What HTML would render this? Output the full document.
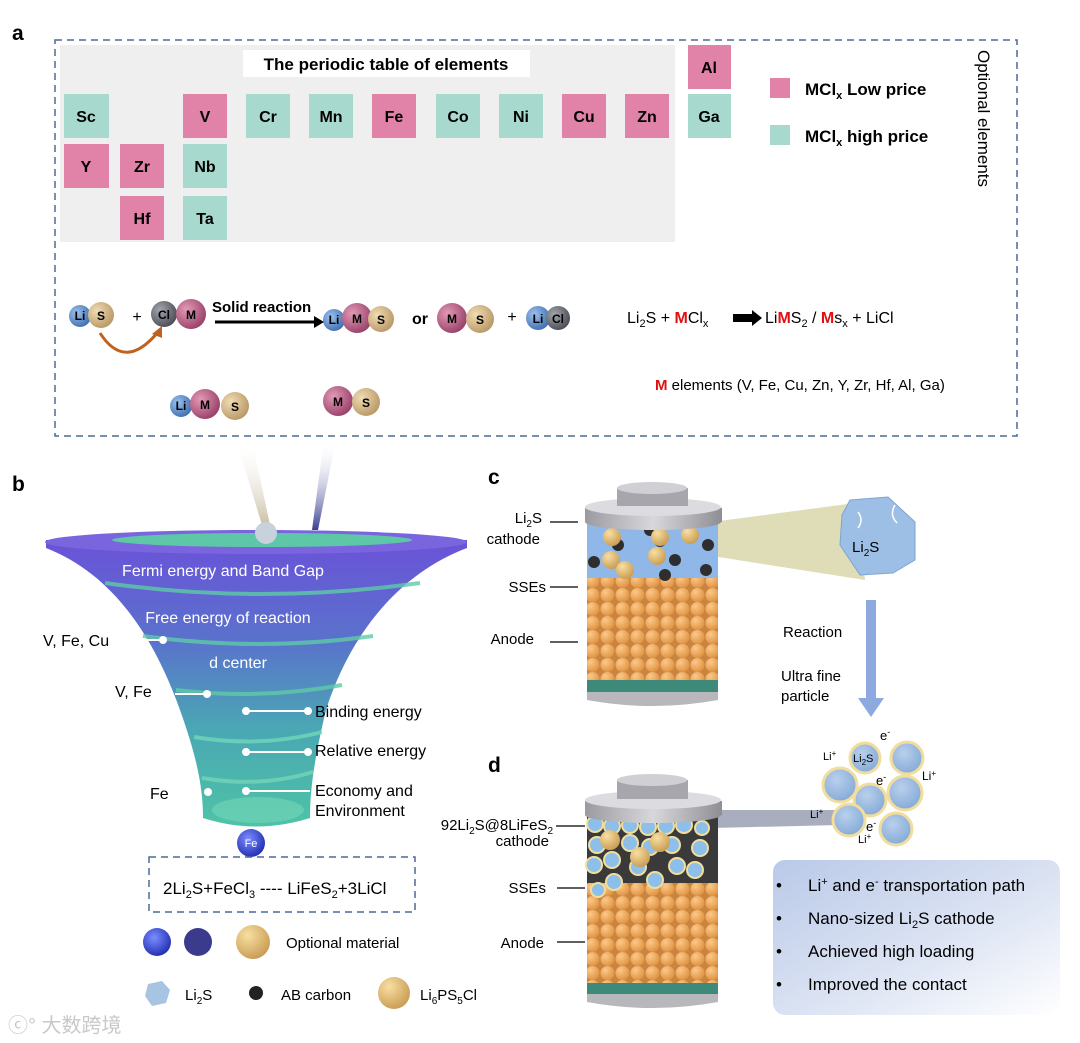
<!DOCTYPE html>
<html><head><meta charset="utf-8"><style>
html,body{margin:0;padding:0;background:#fff;}
svg{display:block;font-family:"Liberation Sans",Arial,sans-serif;}
</style></head><body>
<svg width="1080" height="1043" viewBox="0 0 1080 1043" xmlns="http://www.w3.org/2000/svg">
<defs>
<radialGradient id="gLi" cx="35%" cy="35%" r="70%"><stop offset="0" stop-color="#9cc2ee"/><stop offset="1" stop-color="#3f6fb0"/></radialGradient>
<radialGradient id="gS" cx="35%" cy="35%" r="70%"><stop offset="0" stop-color="#f1dcb4"/><stop offset="1" stop-color="#b89866"/></radialGradient>
<radialGradient id="gM" cx="35%" cy="35%" r="70%"><stop offset="0" stop-color="#e39ab5"/><stop offset="1" stop-color="#98406a"/></radialGradient>
<radialGradient id="gCl" cx="35%" cy="35%" r="70%"><stop offset="0" stop-color="#a4a6ae"/><stop offset="1" stop-color="#4b4c55"/></radialGradient>
<radialGradient id="gFe" cx="40%" cy="35%" r="70%"><stop offset="0" stop-color="#7c8dff"/><stop offset="1" stop-color="#1e2bb0"/></radialGradient>
<radialGradient id="gGold" cx="35%" cy="30%" r="75%"><stop offset="0" stop-color="#f8dfa2"/><stop offset="1" stop-color="#c89b52"/></radialGradient>
<radialGradient id="gOr" cx="35%" cy="30%" r="75%"><stop offset="0" stop-color="#fbc98a"/><stop offset="1" stop-color="#e0913f"/></radialGradient>
<radialGradient id="gPart" cx="40%" cy="35%" r="70%"><stop offset="0" stop-color="#b9d0ec"/><stop offset="1" stop-color="#82a8d6"/></radialGradient>
<linearGradient id="gFun" x1="0" y1="0" x2="0" y2="1"><stop offset="0" stop-color="#6a52d8"/><stop offset="0.35" stop-color="#5a72cc"/><stop offset="0.65" stop-color="#4aa6b4"/><stop offset="1" stop-color="#4ec3a6"/></linearGradient>
<linearGradient id="gBox" x1="0" y1="0" x2="1" y2="1"><stop offset="0" stop-color="#b9c9e8"/><stop offset="0.6" stop-color="#dfe6f4"/><stop offset="1" stop-color="#ffffff"/></linearGradient>
<linearGradient id="gCap" x1="0" y1="0" x2="1" y2="0"><stop offset="0" stop-color="#9a9aa0"/><stop offset="0.5" stop-color="#d8d8dc"/><stop offset="1" stop-color="#8e8e94"/></linearGradient>
<pattern id="pOr" width="15" height="14" patternUnits="userSpaceOnUse"><rect width="15" height="14" fill="#c98440"/><circle cx="7.5" cy="7" r="7" fill="url(#gOr)"/></pattern>
<linearGradient id="beamL" x1="0" y1="0" x2="0" y2="1"><stop offset="0" stop-color="#fff" stop-opacity="0"/><stop offset="1" stop-color="#c9bfa5"/></linearGradient>
<linearGradient id="beamD" x1="0" y1="0" x2="0" y2="1"><stop offset="0" stop-color="#fff" stop-opacity="0"/><stop offset="1" stop-color="#3a3f8f"/></linearGradient>
</defs>

<!-- Panel a -->
<text x="12" y="40" font-size="21" font-weight="bold">a</text>
<rect x="55" y="40" width="962" height="396" fill="none" stroke="#4a6a9a" stroke-width="1.5" stroke-dasharray="7,5"/>
<rect x="60" y="45" width="615" height="197" fill="#efefef"/>
<rect x="243" y="50" width="287" height="27" fill="#fff"/>
<text x="386" y="70" font-size="17" font-weight="bold" text-anchor="middle">The periodic table of elements</text>
<g font-size="16" font-weight="bold" text-anchor="middle">
<rect x="64" y="94" width="45" height="44" fill="#a8d9cf"/><text x="86" y="122">Sc</text>
<rect x="183" y="94" width="44" height="44" fill="#e182a8"/><text x="205" y="122">V</text>
<rect x="246" y="94" width="44" height="44" fill="#a8d9cf"/><text x="268" y="122">Cr</text>
<rect x="309" y="94" width="44" height="44" fill="#a8d9cf"/><text x="331" y="122">Mn</text>
<rect x="372" y="94" width="44" height="44" fill="#e182a8"/><text x="394" y="122">Fe</text>
<rect x="436" y="94" width="44" height="44" fill="#a8d9cf"/><text x="458" y="122">Co</text>
<rect x="499" y="94" width="44" height="44" fill="#a8d9cf"/><text x="521" y="122">Ni</text>
<rect x="562" y="94" width="44" height="44" fill="#e182a8"/><text x="584" y="122">Cu</text>
<rect x="625" y="94" width="44" height="44" fill="#e182a8"/><text x="647" y="122">Zn</text>
<rect x="64" y="144" width="45" height="44" fill="#e182a8"/><text x="86" y="172">Y</text>
<rect x="120" y="144" width="44" height="44" fill="#e182a8"/><text x="142" y="172">Zr</text>
<rect x="183" y="144" width="44" height="44" fill="#a8d9cf"/><text x="205" y="172">Nb</text>
<rect x="120" y="196" width="44" height="44" fill="#e182a8"/><text x="142" y="224">Hf</text>
<rect x="183" y="196" width="44" height="44" fill="#a8d9cf"/><text x="205" y="224">Ta</text>
<rect x="688" y="45" width="43" height="44" fill="#e182a8"/><text x="709" y="73">Al</text>
<rect x="688" y="94" width="43" height="44" fill="#a8d9cf"/><text x="709" y="122">Ga</text>
</g>
<rect x="770" y="78" width="20" height="20" fill="#e182a8"/>
<text x="805" y="95" font-size="17" font-weight="bold">MCl<tspan font-size="11" dy="4">x</tspan><tspan dy="-4"> Low price</tspan></text>
<rect x="770" y="125" width="20" height="20" fill="#a8d9cf"/>
<text x="805" y="142" font-size="17" font-weight="bold">MCl<tspan font-size="11" dy="4">x</tspan><tspan dy="-4"> high price</tspan></text>
<text x="0" y="0" font-size="17" transform="translate(978,50) rotate(90)">Optional elements</text>

<!-- reaction row -->
<g font-size="12" font-weight="bold" text-anchor="middle">
<circle cx="80" cy="316" r="11" fill="url(#gLi)"/><text x="80" y="320">Li</text>
<circle cx="101" cy="315" r="13" fill="url(#gS)"/><text x="101" y="320">S</text>
<text x="137" y="322" font-size="16" font-weight="normal">+</text>
<circle cx="164" cy="314" r="13" fill="url(#gCl)"/><text x="164" y="319">Cl</text>
<circle cx="191" cy="314" r="15" fill="url(#gM)"/><text x="191" y="319">M</text>
<circle cx="334" cy="320" r="11" fill="url(#gLi)"/><text x="334" y="324">Li</text>
<circle cx="357" cy="318" r="15" fill="url(#gM)"/><text x="357" y="323">M</text>
<circle cx="381" cy="319" r="13" fill="url(#gS)"/><text x="381" y="324">S</text>
<text x="420" y="324" font-size="16">or</text>
<circle cx="452" cy="318" r="15" fill="url(#gM)"/><text x="452" y="323">M</text>
<circle cx="480" cy="319" r="14" fill="url(#gS)"/><text x="480" y="324">S</text>
<text x="512" y="322" font-size="16" font-weight="normal">+</text>
<circle cx="538" cy="318" r="12" fill="url(#gLi)"/><text x="538" y="323">Li</text>
<circle cx="558" cy="318" r="12" fill="url(#gCl)"/><text x="558" y="323">Cl</text>
<circle cx="181" cy="406" r="11" fill="url(#gLi)"/><text x="181" y="410">Li</text>
<circle cx="205" cy="404" r="15" fill="url(#gM)"/><text x="205" y="409">M</text>
<circle cx="235" cy="406" r="14" fill="url(#gS)"/><text x="235" y="411">S</text>
<circle cx="338" cy="401" r="15" fill="url(#gM)"/><text x="338" y="406">M</text>
<circle cx="366" cy="402" r="14" fill="url(#gS)"/><text x="366" y="407">S</text>
</g>
<text x="212" y="312" font-size="15" font-weight="bold">Solid reaction</text>
<line x1="215" y1="322" x2="316" y2="322" stroke="#000" stroke-width="3"/>
<polygon points="314,316 324,322 314,328" fill="#000"/>
<path d="M100,333 Q125,372 158,332" fill="none" stroke="#c0621e" stroke-width="3"/>
<polygon points="152,334 162,326 162,338" fill="#c0621e"/>
<text x="627" y="323" font-size="16">Li<tspan font-size="11" dy="4">2</tspan><tspan dy="-4">S + </tspan><tspan fill="#e01010" font-weight="bold">M</tspan>Cl<tspan font-size="11" dy="4">x</tspan></text>
<polygon points="733,314 752,314 752,310 762,318 752,326 752,322 733,322" fill="#000"/>
<text x="765" y="323" font-size="16">Li<tspan fill="#e01010" font-weight="bold">M</tspan>S<tspan font-size="11" dy="4">2</tspan><tspan dy="-4"> / </tspan><tspan fill="#e01010" font-weight="bold">M</tspan>s<tspan font-size="11" dy="4">x</tspan><tspan dy="-4"> + LiCl</tspan></text>
<text x="655" y="390" font-size="15"><tspan fill="#e01010" font-weight="bold">M</tspan>   elements (V, Fe, Cu, Zn, Y, Zr, Hf, Al, Ga)</text>

<!-- Panel b -->
<polygon points="236,440 252,440 270,525 262,525" fill="url(#beamL)"/>
<polygon points="324,440 336,440 318,530 312,530" fill="url(#beamD)"/>
<text x="12" y="491" font-size="21" font-weight="bold">b</text>
<path d="M46,540 L46,548 C115,575 155,640 180,710 C198,760 203,790 203,818 Q256,835 310,818 C310,790 314,760 326,710 C348,640 395,575 467,548 L467,540 Z" fill="url(#gFun)"/>
<ellipse cx="256" cy="542" rx="211" ry="12" fill="#7a65de"/>
<ellipse cx="262" cy="540" rx="150" ry="7" fill="#5ec7a8"/>
<circle cx="266" cy="533" r="11" fill="#c8d2dd"/>
<path d="M105,583 Q260,605 420,583" stroke="#5ecaa8" stroke-width="4" fill="none" opacity=".8"/>
<path d="M143,636 Q260,652 373,636" stroke="#5ecaa8" stroke-width="4" fill="none" opacity=".8"/>
<path d="M176,690 Q260,700 342,685" stroke="#5ecaa8" stroke-width="4" fill="none" opacity=".8"/>
<path d="M194,737 Q260,748 322,732" stroke="#72d6b8" stroke-width="4" fill="none" opacity=".8"/>
<path d="M202,778 Q260,788 313,772" stroke="#72d6b8" stroke-width="4" fill="none" opacity=".8"/>
<ellipse cx="258" cy="810" rx="46" ry="13" fill="#6fd3b6" opacity=".7"/>
<g fill="#fff" font-size="16" text-anchor="middle">
<text x="223" y="576">Fermi energy and Band Gap</text>
<text x="228" y="623">Free energy of reaction</text>
<text x="238" y="668">d center</text>
</g>
<g font-size="16">
<text x="43" y="646">V, Fe, Cu</text>
<text x="115" y="697">V, Fe</text>
<text x="150" y="799">Fe</text>
<text x="315" y="717">Binding energy</text>
<text x="315" y="756">Relative energy</text>
<text x="315" y="796">Economy and</text>
<text x="315" y="816">Environment</text>
</g>
<g stroke="#fff" stroke-width="2" fill="#fff">
<line x1="142" y1="640" x2="163" y2="640"/><circle cx="163" cy="640" r="3"/>
<line x1="175" y1="694" x2="207" y2="694"/><circle cx="207" cy="694" r="3"/>
<circle cx="208" cy="792" r="3"/>
<line x1="246" y1="711" x2="308" y2="711"/><circle cx="246" cy="711" r="3"/><circle cx="308" cy="711" r="3"/>
<line x1="246" y1="752" x2="308" y2="752"/><circle cx="246" cy="752" r="3"/><circle cx="308" cy="752" r="3"/>
<line x1="246" y1="791" x2="310" y2="791"/><circle cx="246" cy="791" r="3"/>
</g>
<circle cx="251" cy="843" r="14" fill="url(#gFe)"/>
<text x="251" y="847" font-size="11" fill="#fff" text-anchor="middle">Fe</text>
<rect x="149" y="857" width="266" height="55" fill="none" stroke="#4a6a9a" stroke-width="1.5" stroke-dasharray="7,5"/>
<text x="163" y="894" font-size="17">2Li<tspan font-size="11" dy="4">2</tspan><tspan dy="-4">S+FeCl</tspan><tspan font-size="11" dy="4">3</tspan><tspan dy="-4"> ---- LiFeS</tspan><tspan font-size="11" dy="4">2</tspan><tspan dy="-4">+3LiCl</tspan></text>
<circle cx="157" cy="942" r="14" fill="url(#gFe)"/>
<circle cx="198" cy="942" r="14" fill="#3a3b8c"/>
<circle cx="253" cy="942" r="17" fill="url(#gGold)"/>
<text x="286" y="948" font-size="15">Optional material</text>
<polygon points="148,984 162,981 170,990 166,1003 152,1006 145,996" fill="#a8c4e3"/>
<text x="185" y="1000" font-size="15">Li<tspan font-size="10" dy="4">2</tspan><tspan dy="-4">S</tspan></text>
<circle cx="256" cy="993" r="7" fill="#222"/>
<text x="281" y="1000" font-size="15">AB carbon</text>
<circle cx="394" cy="993" r="16" fill="url(#gGold)"/>
<text x="420" y="1000" font-size="15">Li<tspan font-size="10" dy="4">6</tspan><tspan dy="-4">PS</tspan><tspan font-size="10" dy="4">5</tspan><tspan dy="-4">Cl</tspan></text>
<text x="8" y="1032" font-size="20" fill="#c8c8c8" font-family="'Liberation Sans','Noto Sans CJK SC',sans-serif">ⓒ° 大数跨境</text>

<!-- Panel c -->
<text x="488" y="484" font-size="21" font-weight="bold">c</text>
<polygon points="712,522 855,503 865,580 712,556" fill="#d9d7ab" opacity=".85"/>
<rect x="587" y="522" width="131" height="170" fill="url(#pOr)"/>
<rect x="587" y="522" width="131" height="56" fill="#8fb8e8"/>
<g fill="#2e2e2e"><circle cx="594" cy="562" r="6"/><circle cx="650" cy="530" r="6"/><circle cx="675" cy="560" r="6"/><circle cx="708" cy="545" r="6"/><circle cx="618" cy="545" r="6"/><circle cx="660" cy="541" r="6"/><circle cx="706" cy="570" r="6"/><circle cx="665" cy="575" r="6"/></g>
<g fill="url(#gGold)"><circle cx="612" cy="537" r="9"/><circle cx="660" cy="537" r="9"/><circle cx="611" cy="560" r="9"/><circle cx="657" cy="556" r="9"/><circle cx="690" cy="535" r="9"/><circle cx="625" cy="570" r="9"/></g>
<rect x="587" y="680" width="131" height="12" fill="#3e8a7a"/>
<path d="M587,692 L587,700 Q652,712 718,700 L718,692 Z" fill="#b7b7bc"/>
<ellipse cx="653" cy="522" rx="68" ry="8" fill="url(#gCap)"/>
<rect x="585" y="508" width="137" height="14" fill="url(#gCap)"/>
<ellipse cx="653" cy="507" rx="68" ry="9" fill="#dcdce0"/>
<rect x="617" y="488" width="71" height="18" fill="#a6a6ac"/>
<ellipse cx="652" cy="488" rx="35" ry="6" fill="#cfcfd4"/>
<g font-size="15" text-anchor="end">
<text x="542" y="523">Li<tspan font-size="10" dy="4">2</tspan><tspan dy="-4">S</tspan></text>
<text x="540" y="544">cathode</text>
<text x="546" y="592">SSEs</text>
<text x="534" y="644">Anode</text>
</g>
<g stroke="#000" stroke-width="1.3"><line x1="550" y1="522" x2="578" y2="522"/><line x1="550" y1="587" x2="578" y2="587"/><line x1="550" y1="642" x2="578" y2="642"/></g>
<polygon points="850,500 888,497 915,522 915,560 893,573 860,575 840,545 842,515" fill="#9dbfe6" stroke="#7fa3d0"/>
<path d="M858,512 q6,8 0,16 M895,505 q-6,10 2,18" stroke="#fff" fill="none" stroke-width="1.5"/>
<text x="852" y="552" font-size="15">Li<tspan font-size="10" dy="4">2</tspan><tspan dy="-4">S</tspan></text>
<rect x="866" y="600" width="10" height="100" fill="#8ea9df"/>
<polygon points="858,698 884,698 871,717" fill="#8ea9df"/>
<g font-size="15"><text x="783" y="637">Reaction</text><text x="781" y="681">Ultra fine</text><text x="781" y="701">particle</text></g>

<!-- Panel d -->
<text x="488" y="772" font-size="21" font-weight="bold">d</text>
<polygon points="712,810 835,810 840,825 712,828" fill="#9aa0b4" opacity=".85"/>
<g fill="url(#gPart)" stroke="#f1dd9c" stroke-width="3">
<circle cx="865" cy="758" r="15"/><circle cx="907" cy="758" r="16"/><circle cx="840" cy="785" r="17"/><circle cx="870" cy="800" r="16"/><circle cx="905" cy="793" r="17"/><circle cx="849" cy="820" r="16"/><circle cx="896" cy="829" r="16"/>
</g>
<g font-size="11"><text x="853" y="762">Li<tspan font-size="8" dy="3">2</tspan><tspan dy="-3">S</tspan></text>
<text x="880" y="740" font-size="13">e<tspan font-size="9" dy="-5">-</tspan></text>
<text x="823" y="760">Li<tspan font-size="8" dy="-4">+</tspan></text>
<text x="876" y="785" font-size="13">e<tspan font-size="9" dy="-5">-</tspan></text>
<text x="922" y="780" font-size="12">Li<tspan font-size="8" dy="-4">+</tspan></text>
<text x="810" y="818">Li<tspan font-size="8" dy="-4">+</tspan></text>
<text x="866" y="831" font-size="13">e<tspan font-size="9" dy="-5">-</tspan></text>
<text x="858" y="843">Li<tspan font-size="8" dy="-4">+</tspan></text></g>
<rect x="587" y="815" width="131" height="180" fill="url(#pOr)"/>
<rect x="587" y="815" width="131" height="68" fill="#3a3a3a"/>
<g fill="#8cc0ea" stroke="#f1dd9c" stroke-width="2">
<circle cx="595" cy="824" r="8"/><circle cx="612" cy="826" r="8"/><circle cx="630" cy="825" r="8"/><circle cx="648" cy="827" r="8"/><circle cx="666" cy="826" r="8"/><circle cx="684" cy="825" r="8"/><circle cx="702" cy="828" r="7"/>
<circle cx="597" cy="845" r="8"/><circle cx="630" cy="843" r="8"/><circle cx="650" cy="847" r="8"/><circle cx="672" cy="845" r="8"/><circle cx="700" cy="848" r="8"/>
<circle cx="594" cy="865" r="8"/><circle cx="612" cy="860" r="8"/><circle cx="638" cy="867" r="8"/><circle cx="677" cy="866" r="8"/><circle cx="695" cy="870" r="8"/><circle cx="614" cy="882" r="8"/><circle cx="655" cy="880" r="8"/><circle cx="598" cy="890" r="7"/>
</g>
<g fill="url(#gGold)"><circle cx="610" cy="840" r="10"/><circle cx="660" cy="842" r="10"/><circle cx="640" cy="857" r="10"/></g>
<rect x="587" y="983" width="131" height="11" fill="#3e8a7a"/>
<path d="M587,994 L587,1002 Q652,1014 718,1002 L718,994 Z" fill="#b7b7bc"/>
<ellipse cx="653" cy="815" rx="68" ry="8" fill="url(#gCap)"/>
<rect x="585" y="801" width="137" height="14" fill="url(#gCap)"/>
<ellipse cx="653" cy="800" rx="68" ry="9" fill="#dcdce0"/>
<rect x="617" y="780" width="71" height="19" fill="#a6a6ac"/>
<ellipse cx="652" cy="780" rx="35" ry="6" fill="#cfcfd4"/>
<g font-size="15" text-anchor="end">
<text x="553" y="830">92Li<tspan font-size="10" dy="4">2</tspan><tspan dy="-4">S@8LiFeS</tspan><tspan font-size="10" dy="4">2</tspan></text>
<text x="549" y="846">cathode</text>
<text x="546" y="893">SSEs</text>
<text x="544" y="948">Anode</text>
</g>
<g stroke="#000" stroke-width="1.3"><line x1="556" y1="826" x2="585" y2="826"/><line x1="557" y1="888" x2="585" y2="888"/><line x1="557" y1="942" x2="585" y2="942"/></g>
<rect x="773" y="860" width="287" height="155" rx="12" fill="url(#gBox)"/>
<g font-size="17">
<text x="776" y="891">•</text><text x="808" y="891">Li<tspan font-size="11" dy="-6">+</tspan><tspan dy="6"> and e</tspan><tspan font-size="11" dy="-6">-</tspan><tspan dy="6"> transportation path</tspan></text>
<text x="776" y="924">•</text><text x="808" y="924">Nano-sized Li<tspan font-size="11" dy="4">2</tspan><tspan dy="-4">S cathode</tspan></text>
<text x="776" y="957">•</text><text x="808" y="957">Achieved high loading</text>
<text x="776" y="990">•</text><text x="808" y="990">Improved the contact</text>
</g>
</svg>
</body></html>
